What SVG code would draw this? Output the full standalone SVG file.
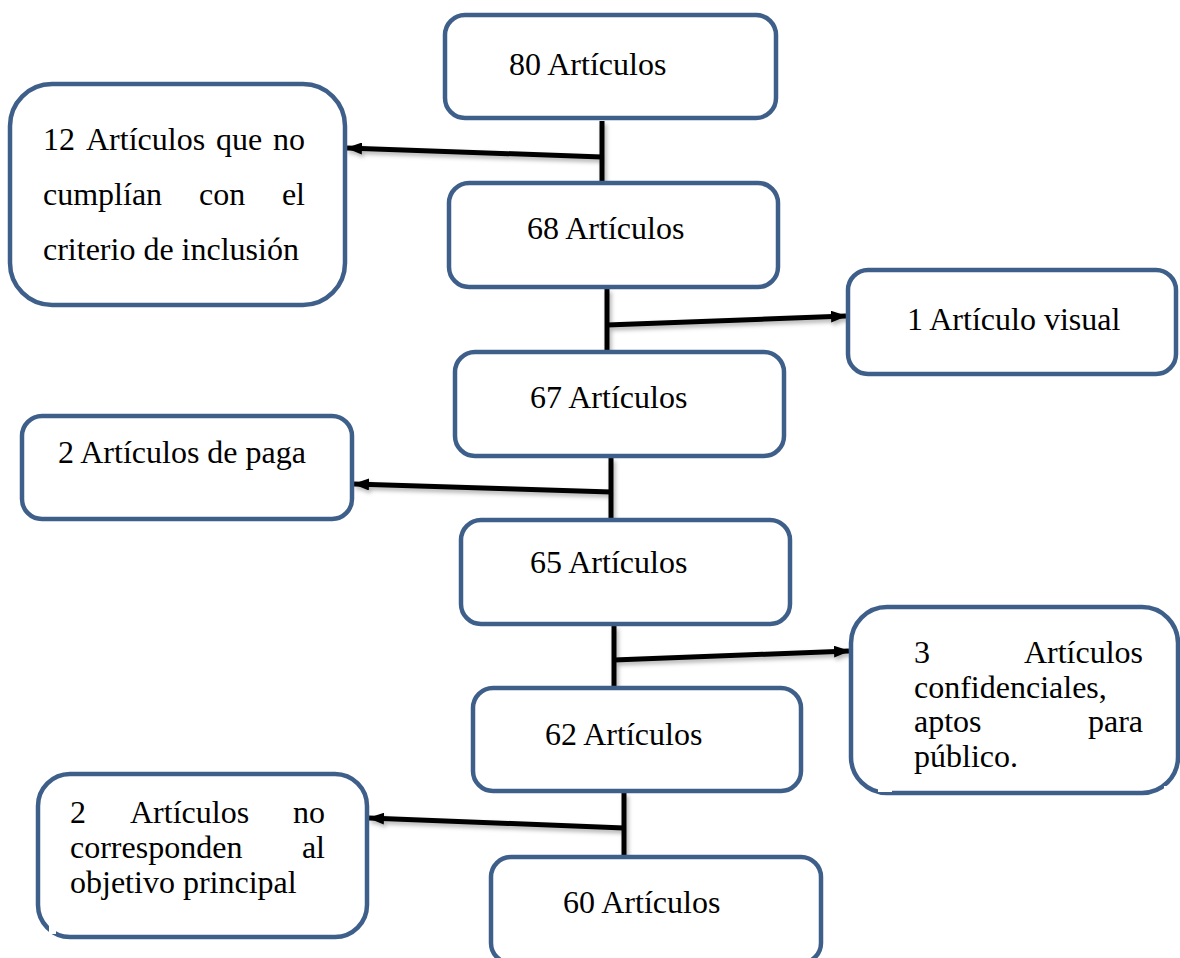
<svg xmlns="http://www.w3.org/2000/svg" width="1180" height="958" viewBox="0 0 1180 958">
<style>
.box{fill:#fff;stroke:#3f5f8b;stroke-width:4.5}
.t{font-family:"Liberation Serif","Times New Roman",serif;font-size:32px;fill:#000}
.ln{stroke:#000;stroke-width:5;fill:none}
.ar{stroke:#000;stroke-width:5;fill:none;marker-end:url(#ah)}
.w{fill:#fff}
</style>
<defs>
<marker id="ah" viewBox="0 0 16 12" refX="15" refY="6" markerWidth="16" markerHeight="12" markerUnits="userSpaceOnUse" orient="auto">
<path d="M0,0 L16,6 L0,12 Z" fill="#000"/>
</marker>
<filter id="sh" x="-10%" y="-50%" width="120%" height="200%">
<feDropShadow dx="2" dy="3" stdDeviation="2" flood-color="#000" flood-opacity="0.3"/>
</filter>
</defs>
<rect width="1180" height="958" fill="#fff"/>

<g id="connectors" filter="url(#sh)">
<line class="ln" x1="602" y1="121" x2="602" y2="182"/>
<line class="ar" x1="602" y1="157" x2="347" y2="148"/>
<line class="ln" x1="607" y1="289" x2="607" y2="352"/>
<line class="ar" x1="607" y1="325" x2="846" y2="316"/>
<line class="ln" x1="611" y1="458" x2="611" y2="521"/>
<line class="ar" x1="611" y1="492" x2="354" y2="484"/>
<line class="ln" x1="614" y1="626" x2="614" y2="688"/>
<line class="ar" x1="614" y1="660" x2="849" y2="651"/>
<line class="ln" x1="624" y1="793" x2="624" y2="857"/>
<line class="ar" x1="624" y1="828" x2="369" y2="818"/>
</g>

<g id="n80">
<rect class="box" x="445" y="15" width="331" height="103" rx="20"/>
<text class="t" x="509" y="75">80 Artículos</text>
</g>

<g id="n12">
<rect class="box" x="10" y="84" width="335" height="221" rx="42"/>
<text class="t" y="150"><tspan x="43">12</tspan><tspan x="86">Artículos</tspan><tspan x="216">que</tspan><tspan x="305" text-anchor="end">no</tspan></text>
<text class="t" y="205"><tspan x="43">cumplían</tspan><tspan x="199">con</tspan><tspan x="305" text-anchor="end">el</tspan></text>
<text class="t" x="43" y="260">criterio de inclusión</text>
</g>

<g id="n68">
<rect class="box" x="449" y="183" width="329" height="104" rx="20"/>
<text class="t" x="527" y="239">68 Artículos</text>
</g>

<g id="n1">
<rect class="box" x="848" y="270" width="328" height="104" rx="20"/>
<text class="t" x="907" y="330">1 Artículo visual</text>
</g>

<g id="n67">
<rect class="box" x="455" y="352" width="329" height="104" rx="20"/>
<text class="t" x="530" y="408">67 Artículos</text>
</g>

<g id="n2paga">
<rect class="box" x="22" y="416" width="330" height="103" rx="20"/>
<text class="t" x="58" y="463">2 Artículos de paga</text>
</g>

<g id="n65">
<rect class="box" x="461" y="520" width="329" height="104" rx="20"/>
<text class="t" x="530" y="573">65 Artículos</text>
</g>

<g id="n3">
<rect class="box" x="851" y="607" width="327" height="186" rx="36"/>
<rect class="w" x="878" y="788" width="14" height="4"/>
<rect class="w" x="1164" y="786" width="8" height="5"/>
<text class="t" y="663"><tspan x="914">3</tspan><tspan x="1143" text-anchor="end">Artículos</tspan></text>
<text class="t" x="914" y="698">confidenciales,</text>
<text class="t" y="732"><tspan x="914">aptos</tspan><tspan x="1143" text-anchor="end">para</tspan></text>
<text class="t" x="914" y="767">público.</text>
</g>

<g id="n62">
<rect class="box" x="473" y="688" width="328" height="103" rx="20"/>
<text class="t" x="545" y="745">62 Artículos</text>
</g>

<g id="n2obj">
<rect class="box" x="38" y="774" width="329" height="163" rx="32"/>
<rect class="w" x="49" y="924" width="7" height="10"/>
<text class="t" y="823"><tspan x="70">2</tspan><tspan x="130">Artículos</tspan><tspan x="325" text-anchor="end">no</tspan></text>
<text class="t" y="858"><tspan x="70">corresponden</tspan><tspan x="325" text-anchor="end">al</tspan></text>
<text class="t" x="70" y="893">objetivo principal</text>
</g>

<g id="n60">
<rect class="box" x="491" y="857" width="330" height="106" rx="20"/>
<text class="t" x="563" y="913">60 Artículos</text>
</g>
</svg>
